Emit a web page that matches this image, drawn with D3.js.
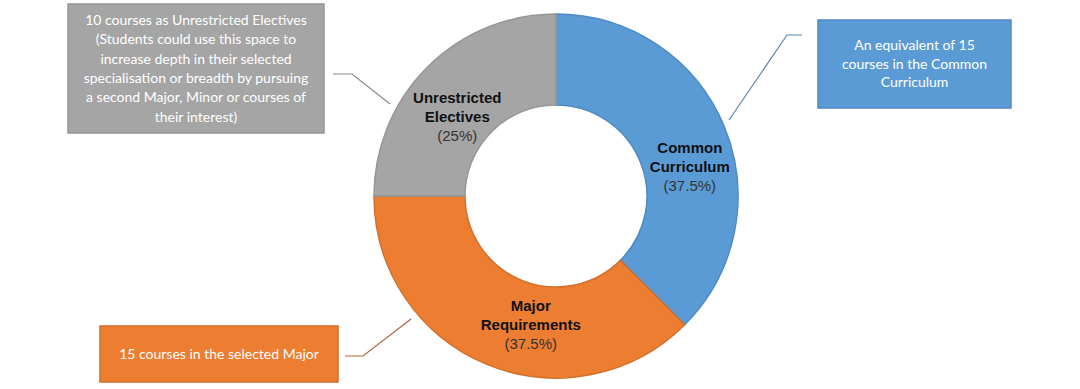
<!DOCTYPE html>
<meta charset="utf-8">
<title>Curriculum structure</title>
<style>

body {
  margin: 0;
  background: #fff;
}

svg {
  display: block;
}

.slice {
  stroke-width: 1.5px;
}

.lbl-name {
  font: bold 15px "Liberation Sans", Arial, sans-serif;
  fill: #111;
}

.lbl-pct {
  font: 15px "Liberation Sans", Arial, sans-serif;
  fill: #333;
}

.note {
  font: 14px Lato, "Open Sans", sans-serif;
  fill: #fff;
}

</style>
<body>
<script src="https://cdn.jsdelivr.net/npm/d3@7"></script>
<script>

// slices, clockwise from 12 o'clock
var categories = ["Common Curriculum", "Major Requirements", "Unrestricted Electives"];
var shares = [37.5, 37.5, 25];
var nameLines = [["Common", "Curriculum"], ["Major", "Requirements"], ["Unrestricted", "Electives"]];
var pctLabels = ["(37.5%)", "(37.5%)", "(25%)"];

// callout notes
var notes = [
  ["An equivalent of 15", "courses in the Common", "Curriculum"],
  ["15 courses in the selected Major"],
  ["10 courses as Unrestricted Electives", "(Students could use this space to", "increase depth in their selected", "specialisation or breadth by pursuing", "a second Major, Minor or courses of", "their interest)"]
];

var fills = ["#5b9bd5", "#ed7d31", "#a5a5a5"],
    strokes = ["#4f8ac2", "#d2702b", "#979797"],
    leaders = ["#5b86b0", "#b0673a", "#8a8a8a"];

var width = 1080, height = 389,
    cx = 556, cy = 196,
    outerR = 182, innerR = 91;

var svg = d3.select("body").append("svg")
    .attr("width", width)
    .attr("height", height);

var pie = d3.pie().sort(null).value(function(d) { return d; });
var arcs = pie(shares);

var arc = d3.arc().innerRadius(innerR).outerRadius(outerR);
var labelArc = d3.arc().innerRadius(134).outerRadius(134);

var g = svg.append("g")
    .attr("transform", "translate(" + cx + "," + cy + ")");

g.selectAll("path.slice")
    .data(arcs)
  .enter().append("path")
    .attr("class", "slice")
    .attr("d", arc)
    .attr("fill", function(d, i) { return fills[i]; })
    .attr("stroke", function(d, i) { return strokes[i]; });

// small nudges so labels sit where the original put them
var nudge = [[10, 22], [26, 5], [-4, 16]];
var lineH = 19;

var lbl = g.selectAll("g.lbl")
    .data(arcs)
  .enter().append("g")
    .attr("class", "lbl")
    .attr("transform", function(d, i) {
      var c = labelArc.centroid(d);
      return "translate(" + (c[0] + nudge[i][0]) + "," + (c[1] + nudge[i][1]) + ")";
    });

lbl.each(function(d, i) {
  var el = d3.select(this);
  var lines = nameLines[i].concat([pctLabels[i]]);
  var y0 = -(lines.length - 1) / 2 * lineH;
  lines.forEach(function(t, j) {
    el.append("text")
        .attr("class", j < lines.length - 1 ? "lbl-name" : "lbl-pct")
        .attr("text-anchor", "middle")
        .attr("dy", "0.35em")
        .attr("y", y0 + j * lineH)
        .text(t);
  });
});

// callout boxes: x, y, w, h, line height
var boxes = [
  {x: 818, y: 20, w: 193, h: 88, lh: 18.5},
  {x: 100, y: 326, w: 238, h: 56, lh: 19},
  {x: 68, y: 4, w: 256, h: 129, lh: 19.3}
];

// leader lines: from box side, short horizontal, then to the ring
var leaderPts = [
  [[802, 35], [787, 35], [729, 120]],
  [[345, 356], [363, 356], [411, 319]],
  [[333, 74], [352, 74], [390, 104]]
];

var line = d3.line();

svg.selectAll("path.leader")
    .data(leaderPts)
  .enter().append("path")
    .attr("class", "leader")
    .attr("d", line)
    .attr("fill", "none")
    .attr("stroke", function(d, i) { return leaders[i]; })
    .attr("stroke-width", 1.2);

var note = svg.selectAll("g.note-box")
    .data(boxes)
  .enter().append("g")
    .attr("class", "note-box");

note.append("rect")
    .attr("x", function(d) { return d.x; })
    .attr("y", function(d) { return d.y; })
    .attr("width", function(d) { return d.w; })
    .attr("height", function(d) { return d.h; })
    .attr("fill", function(d, i) { return fills[i]; })
    .attr("stroke", function(d, i) { return strokes[i]; })
    .attr("stroke-width", 1.5);

note.each(function(b, i) {
  var el = d3.select(this);
  var lines = notes[i];
  var midY = b.y + b.h / 2;
  var y0 = midY - (lines.length - 1) / 2 * b.lh;
  lines.forEach(function(t, j) {
    el.append("text")
        .attr("class", "note")
        .attr("text-anchor", "middle")
        .attr("x", b.x + b.w / 2)
        .attr("y", y0 + j * b.lh)
        .attr("dy", "0.35em")
        .text(t);
  });
});

</script>
